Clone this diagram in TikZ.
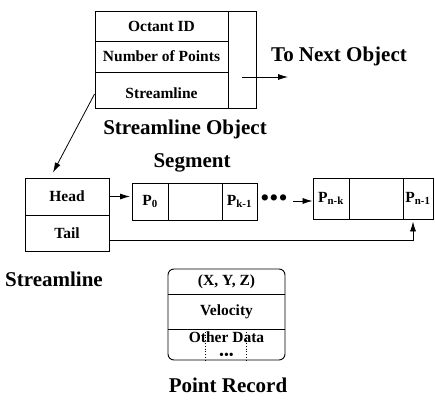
\documentclass[tikz,border=0pt]{standalone}
\usepackage{fontspec}
\setmainfont{Liberation Serif}
\usetikzlibrary{arrows.meta}
\begin{document}
\begin{tikzpicture}[x=1pt,y=-1pt,
  cell/.style={draw,line width=0.9pt,inner sep=0pt,minimum width=#1,font=\fontsize{15.5}{17}\selectfont\bfseries},
  plain/.style={inner sep=0pt,font=\fontsize{15.5}{17}\selectfont\bfseries},
  biglabel/.style={inner sep=0pt,font=\fontsize{21}{24}\selectfont\bfseries},
  arr/.style={line width=0.8pt,-{Latex[length=10pt,width=6pt]}}]
\useasboundingbox (0,0) rectangle (435,406);
% Streamline Object
\node[cell=133pt,minimum height=30pt] (oid) at (161.5,26) {Octant ID};
\node[cell=133pt,minimum height=31pt] (nop) at (161.5,56.5) {Number of Points};
\node[cell=133pt,minimum height=36pt] (sl) at (161.5,90) {};
\node[plain] at (161.5,93) {Streamline};
\node[cell=28pt,minimum height=97pt] (ptr) at (242,59.5) {};
\coordinate (nextend) at (288,77);
\draw[arr] (ptr.center |- nextend) -- (nextend);
\node[biglabel] (tonext) at (339,56) {To Next Object};
\node[biglabel] (solabel) at (185,129) {Streamline Object};
% Streamline
\node[cell=84pt,minimum height=37pt] (head) at (67,196.5) {Head};
\node[cell=84pt,minimum height=36pt] (tail) at (67,233) {Tail};
\node[biglabel] (sllabel) at (54,279) {Streamline};
\draw[arr] ([yshift=-4pt]sl.west) -- ([xshift=-14pt,yshift=5pt]head.north);
% Segment 1
\node[cell=36pt,minimum height=37pt] (s1a) at (150,201.5) {P\textsubscript{0}};
\node[cell=54pt,minimum height=37pt] (s1b) at (195,201.5) {};
\node[cell=35pt,minimum height=37pt] (s1c) at (239.5,201.5) {P\textsubscript{k-1}};
\node[biglabel] (seglabel) at (192,163) {Segment};
\draw[arr,shorten >=1.5pt] (head.east) -- (s1a.west |- head.east);
\node[plain,font=\fontsize{26}{26}\selectfont] (dots) at (274,201) {•••};
% Segment 2
\node[cell=36pt,minimum height=41pt] (s2a) at (331,198.5) {P\textsubscript{n-k}};
\node[cell=54pt,minimum height=41pt] (s2b) at (376,198.5) {};
\node[cell=30pt,minimum height=41pt] (s2c) at (418,198.5) {P\textsubscript{n-1}};
\draw[arr] ([xshift=5pt]dots.east |- 0,201) -- (s2a.west |- 0,201);
\draw[arr] ([yshift=-7pt]tail.east) -| ([xshift=-5pt,yshift=-2pt]s2c.south);
% Point Record
\node[draw,line width=0.9pt,rounded corners=6pt,minimum width=117pt,minimum height=91pt,inner sep=0pt] (rec) at (226.5,314.5) {};
\node[plain] (xyz) at (226.5,282) {(X, Y, Z)};
\node[plain] (vel) at (226.5,312) {Velocity};
\node[plain] (oth) at (226.5,337) {Other Data};
\node[plain,font=\fontsize{14}{14}\selectfont] (odots) at (226.5,356) {•••};
\coordinate (d1) at (205,329);
\coordinate (d2) at (246,329);
\draw[line width=0.9pt] (rec.west |- d1) -- (rec.east |- d1);
\draw[line width=0.9pt] (rec.west |- 0,294) -- (rec.east |- 0,294);
\draw[dotted,line width=0.8pt] (d1) -- (d1 |- rec.south);
\draw[dotted,line width=0.8pt] (d2) -- (d2 |- rec.south);
\node[biglabel] (prlabel) at (228,385) {Point Record};
\end{tikzpicture}
\end{document}
